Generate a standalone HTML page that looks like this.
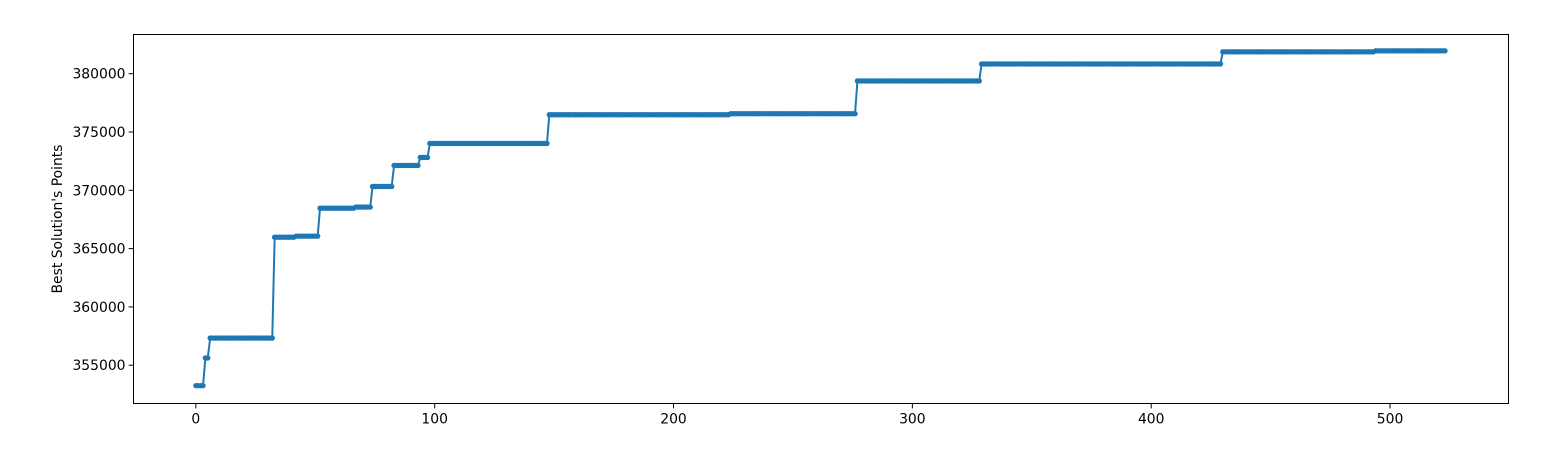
<!DOCTYPE html>
<html><head><meta charset="utf-8"><style>
body{margin:0;background:#fff;}
svg text{font-family:"DejaVu Sans","Liberation Sans",sans-serif;font-size:13.9px;fill:#000;}
</style></head><body>
<svg id="chart" width="1549" height="448" xmlns="http://www.w3.org/2000/svg">
<rect width="1549" height="448" fill="#fff"/>
<g id="plot"></g>
<rect x="133.5" y="34.5" width="1375" height="369" fill="none" stroke="#000" stroke-width="1"/>
<g id="axes"></g>
<text transform="translate(62,219) rotate(-90)" text-anchor="middle">Best Solution's Points</text>
</svg>
<script>
const stepStarts = [0, 4, 6, 33, 42, 52, 67, 74, 83, 94, 98, 148, 224, 277, 329, 430, 494];
const stepValues = [353250, 355620, 357330, 365980, 366070, 368470, 368560, 370330, 372130, 372820, 374020, 376480, 376570, 379380, 380840, 381880, 381960];
const lastIteration = 523;
const xTicks = [0, 100, 200, 300, 400, 500];
const yTicks = [355000, 360000, 365000, 370000, 375000, 380000];

const X0=133.5, X1=1508.5, Y0=403.5, Y1=34.5;
const xMin=-26.1, xMax=549.6, yMin=351718, yMax=383363;
const sx=v=>X0+(v-xMin)/(xMax-xMin)*(X1-X0);
const sy=v=>Y0-(v-yMin)/(yMax-yMin)*(Y0-Y1);
const NS="http://www.w3.org/2000/svg";
const plot=document.getElementById('plot'), axes=document.getElementById('axes');

const pts=[];
for(let s=0;s<stepStarts.length;s++){
  const end = s+1<stepStarts.length ? stepStarts[s+1]-1 : lastIteration;
  for(let i=stepStarts[s];i<=end;i++) pts.push([i,stepValues[s]]);
}
const line=document.createElementNS(NS,'polyline');


line.setAttribute('points',pts.map(p=>sx(p[0]).toFixed(2)+','+sy(p[1]).toFixed(2)).join(' '));
line.setAttribute('fill','none');line.setAttribute('stroke','#1f77b4');line.setAttribute('stroke-width','2');
plot.appendChild(line);
pts.forEach(p=>{
  const c=document.createElementNS(NS,'circle');
  
  
  c.setAttribute('cx',sx(p[0]).toFixed(2));c.setAttribute('cy',sy(p[1]).toFixed(2));
  c.setAttribute('r','2.7');c.setAttribute('fill','#1f77b4');
  plot.appendChild(c);
});
xTicks.forEach(t=>{
  const x=sx(t);
  const l=document.createElementNS(NS,'line');
  
  
  l.setAttribute('x1',x);l.setAttribute('x2',x);l.setAttribute('y1',Y0);l.setAttribute('y2',Y0+4.9);l.setAttribute('stroke','#000');
  axes.appendChild(l);
  const tx=document.createElementNS(NS,'text');
  
  
  tx.setAttribute('x',x);tx.setAttribute('y',Y0+20);tx.setAttribute('text-anchor','middle');tx.textContent=t;
  axes.appendChild(tx);
});
yTicks.forEach(t=>{
  const y=sy(t);
  const l=document.createElementNS(NS,'line');
  
  
  l.setAttribute('x1',X0-4.9);l.setAttribute('x2',X0);l.setAttribute('y1',y);l.setAttribute('y2',y);l.setAttribute('stroke','#000');
  axes.appendChild(l);
  const tx=document.createElementNS(NS,'text');
  
  
  tx.setAttribute('x',X0-8);tx.setAttribute('y',y+5);tx.setAttribute('text-anchor','end');tx.textContent=t;
  axes.appendChild(tx);
});
</script>
</body></html>
